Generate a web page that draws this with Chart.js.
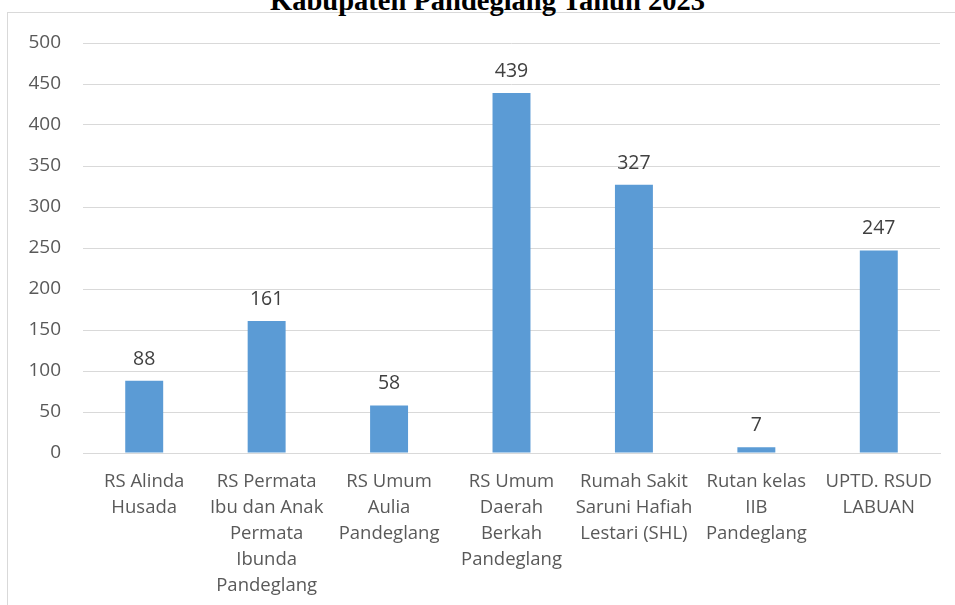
<!DOCTYPE html>
<html>
<head>
<meta charset="utf-8">
<script src="https://cdn.jsdelivr.net/npm/chart.js@4"></script>
<style>
  html, body { margin: 0; padding: 0; background: #fff; overflow: hidden; }
  #wrap { position: relative; width: 955px; height: 605px; overflow: hidden; }
  #frame { position: absolute; left: 7px; top: 12px; width: 1000px; height: 700px; border: 1px solid #d9d9d9; }
  #title { position: absolute; top: -13px; left: 10px; width: 955px; text-align: center;
           font: bold 28.5px "Liberation Serif", serif; line-height: 28px; color: #000; white-space: nowrap; }
  #myChart { position: absolute; left: 0; top: 0; }
</style>
</head>
<body>
<div id="wrap">
  <div id="frame"></div>
  <div id="title">Kabupaten Pandeglang Tahun 2023</div>
  <canvas id="myChart" width="955" height="605"></canvas>
</div>
<script>
var categories = [
    ["RS Alinda", "Husada"],
    ["RS Permata", "Ibu dan Anak", "Permata", "Ibunda", "Pandeglang"],
    ["RS Umum", "Aulia", "Pandeglang"],
    ["RS Umum", "Daerah", "Berkah", "Pandeglang"],
    ["Rumah Sakit", "Saruni Hafiah", "Lestari (SHL)"],
    ["Rutan kelas", "IIB", "Pandeglang"],
    ["UPTD. RSUD", "LABUAN"]
];
var values = [88, 161, 58, 439, 327, 7, 247];
var yTicks = [0, 50, 100, 150, 200, 250, 300, 350, 400, 450, 500];

var fontFamily = '"Open Sans", "Liberation Sans", sans-serif';

// draws the value above each bar
var valueLabels = {
    id: 'valueLabels',
    afterDatasetsDraw: function(chart) {
        var ctx = chart.ctx;
        var meta = chart.getDatasetMeta(0);
        ctx.save();
        ctx.font = '19.5px ' + fontFamily;
        ctx.fillStyle = '#404040';
        ctx.textAlign = 'center';
        ctx.textBaseline = 'alphabetic';
        meta.data.forEach(function(bar, i) {
            ctx.fillText(values[i], bar.x, bar.y - 16);
        });
        ctx.restore();
    }
};

var ctx = document.getElementById("myChart").getContext('2d');
var myChart = new Chart(ctx, {
    type: 'bar',
    data: {
        labels: categories,
        datasets: [{
            data: values,
            backgroundColor: '#5b9bd5',
            barPercentage: 0.31,
            categoryPercentage: 1.0
        }]
    },
    options: {
        responsive: false,
        animation: false,
        layout: { padding: { left: 0, right: 15, top: 43, bottom: 0 } },
        plugins: {
            legend: { display: false },
            tooltip: { enabled: false }
        },
        scales: {
            x: {
                grid: { display: false, drawTicks: false },
                border: { display: true, color: '#d9d9d9', width: 1 },
                ticks: {
                    color: '#595959',
                    font: { family: fontFamily, size: 18.5, lineHeight: 1.4 },
                    padding: 16,
                    maxRotation: 0,
                    autoSkip: false
                },
                afterFit: function(scale) { scale.height = 152; }
            },
            y: {
                min: 0,
                max: 500,
                afterBuildTicks: function(scale) {
                    scale.ticks = yTicks.map(function(v) { return { value: v }; });
                },
                grid: { color: '#d9d9d9', drawTicks: false },
                border: { display: false },
                ticks: {
                    color: '#595959',
                    font: { family: fontFamily, size: 19 },
                    padding: 22
                },
                afterFit: function(scale) { scale.width = 83; }
            }
        }
    },
    plugins: [valueLabels]
});
</script>
</body>
</html>
